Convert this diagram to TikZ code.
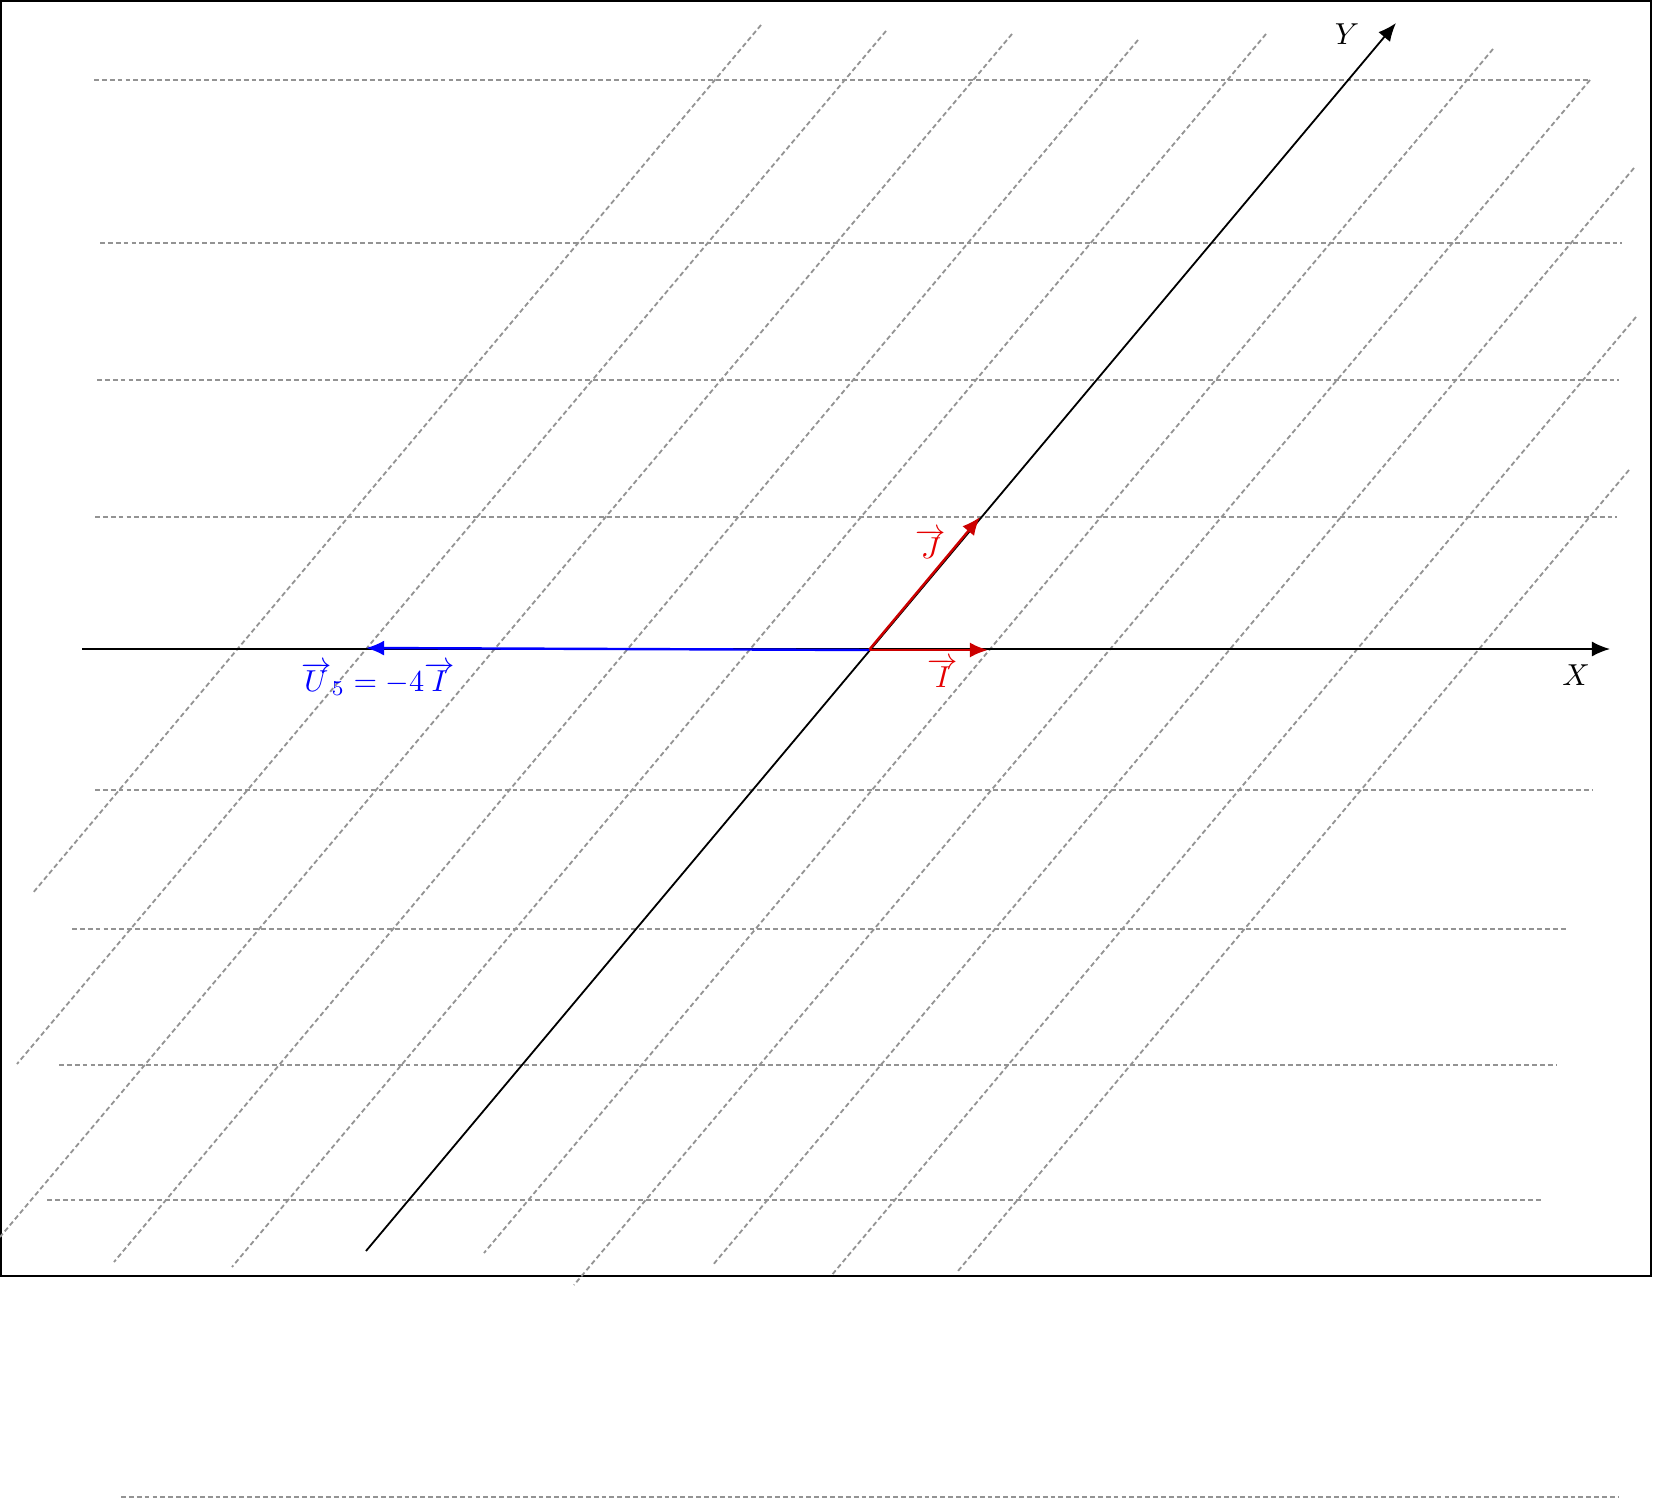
\documentclass[tikz,border=0pt]{standalone}
\usetikzlibrary{arrows.meta}
\tikzset{
  gridline/.style={gray!85, line width=0.6pt, dash pattern=on 1.6pt off 1pt},
  vecline/.style={->, thick}
}
\begin{document}
\begin{tikzpicture}[x=0.116mm, y=-0.116mm, >={Latex[length=6pt,width=5pt]}]
		\useasboundingbox (0,0) rectangle (1653,1499);
		
		% Rahmen
		\draw[thick] (1,1) rectangle (1651,1276);
		
		% Gitter (waagerecht)
		\foreach \y/\xa/\xb in {80/94/1590, 243/100/1622, 380/97/1619, 517/95/1617,
		  790/95/1592, 929/72/1567, 1065/59/1556, 1200/47/1542, 1497/121/1618}
		  \draw[gridline] (\xa,\y) -- (\xb,\y);
		
		% Gitter (schraeg)
		\foreach \xa/\ya/\xb/\yb in {761/25/32/894, 886/31/17/1064, 1012/34/0/1237,
		  1138/40/114/1262, 1266/34/232/1267, 1493/49/484/1253, 1590/80/574/1285,
		  1634/168/712/1266, 1636/317/831/1276, 1629/470/958/1271}
		  \draw[gridline] (\xa,\ya) -- (\xb,\yb);
		
		% Achsen
		\coordinate (xstart) at (82,649);
		\coordinate (xend) at (1610,649);
		\coordinate (ystart) at (366,1251);
		\coordinate (yend) at (1396,23);
		\draw[->, semithick] (xstart) -- (xend);
		\draw[->, semithick] (ystart) -- (yend);
		\node (xlabel) at (1576,675) {$X$};
		\node (ylabel) at (1347,34) {$Y$};
		
		% Basisvektoren
		\coordinate (O) at (869,650);
		\coordinate (I) at (988,650);
		\coordinate (J) at (980,517);
		\draw[vecline, red!80!black] (O) -- (I);
		\draw[vecline, red!80!black] (O) -- (J);
		\node[red!90!black] (ilabel) at (943,673) {$\overrightarrow{I}$};
		\node[red!90!black] (jlabel) at (931,544) {$\overrightarrow{J}$};
		
		% Vektor U_5
		\coordinate (U) at (366,648);
		\draw[vecline, blue] (O) -- (U);
		\node[blue] (ulabel) at (378,679) {$\overrightarrow{U}_5=-4\overrightarrow{I}$};
		
	\end{tikzpicture}
\end{document}
